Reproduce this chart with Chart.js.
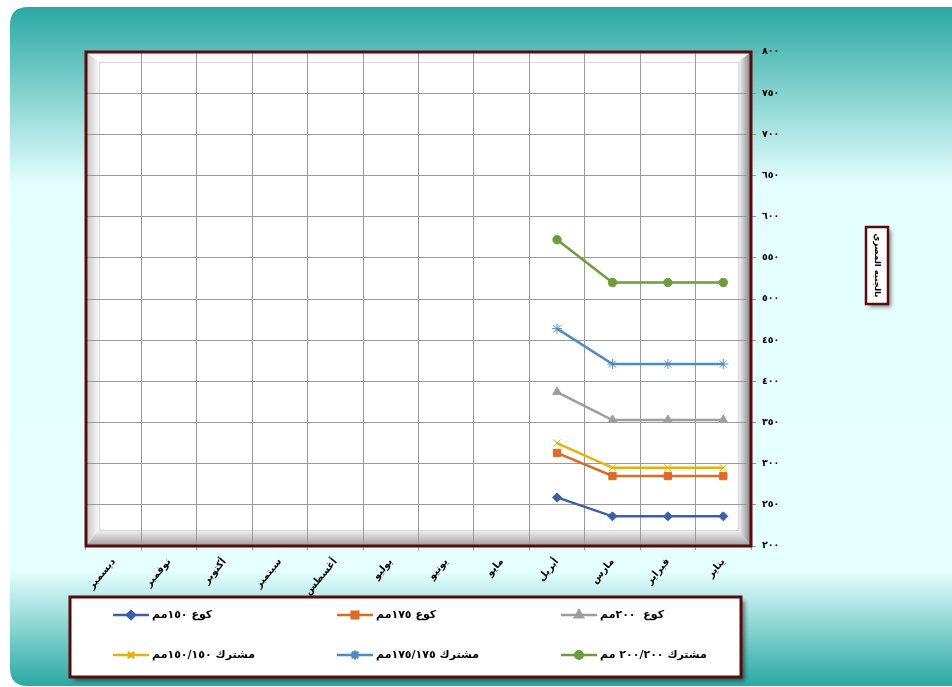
<!DOCTYPE html>
<html>
<head>
<meta charset="utf-8">
<script src="https://cdn.jsdelivr.net/npm/chart.js@4.4.1/dist/chart.umd.min.js"></script>
<style>
  html, body { margin: 0; padding: 0; background: #fff; }
  canvas { display: block; }
</style>
</head>
<body>
<canvas id="chart" width="952" height="687"></canvas>
<script>
// الشهور (من اليمين لليسار)
const months = ['يناير', 'فبراير', 'مارس', 'أبريل', 'مايو', 'يونيو', 'يوليو', 'أغسطس', 'سبتمبر', 'أكتوبر', 'نوفمبر', 'ديسمبر'];

// الأسعار بالجنيه المصري
const elbow150 = [236, 236, 236, 259, null, null, null, null, null, null, null, null];
const elbow175 = [285, 285, 285, 313, null, null, null, null, null, null, null, null];
const elbow200 = [353, 353, 353, 387, null, null, null, null, null, null, null, null];
const tee150 = [295, 295, 295, 325, null, null, null, null, null, null, null, null];
const tee175 = [421, 421, 421, 464, null, null, null, null, null, null, null, null];
const tee200 = [520, 520, 520, 572, null, null, null, null, null, null, null, null];

const seriesNames = ['كوع ١٥٠مم', 'كوع ١٧٥مم', 'كوع  ٢٠٠مم', 'مشترك ١٥٠/١٥٠مم', 'مشترك ١٧٥/١٧٥مم', 'مشترك ٢٠٠/٢٠٠ مم'];
const yMin = 200, yMax = 800, yStep = 50;
const yTitle = 'بالجنيه المصري';

const FONT = "'DejaVu Sans', sans-serif";
const MAROON = '#5a0b0b';

const toArabicDigits = n => String(n).replace(/\d/g, d => '٠١٢٣٤٥٦٧٨٩'[d]);

function makeSet(label, data, color, pointStyle, radius) {
    return {
        label: label,
        data: data,
        borderColor: color,
        backgroundColor: color,
        borderWidth: 2.5,
        pointStyle: pointStyle,
        pointRadius: radius,
        pointHoverRadius: radius,
        pointBorderWidth: 1,
        pointBackgroundColor: color,
        pointBorderColor: color,
        spanGaps: false,
        tension: 0
    };
}

const datasets = [
    makeSet(seriesNames[0], elbow150, '#3b60a9', 'rectRot', 4.5),
    makeSet(seriesNames[1], elbow175, '#dc6b27', 'rect', 5.2),
    makeSet(seriesNames[2], elbow200, '#9d9d9d', 'triangle', 5),
    makeSet(seriesNames[3], tee150, '#e7b10b', 'crossRot', 5),
    makeSet(seriesNames[4], tee175, '#4f8ac6', 'star', 5),
    makeSet(seriesNames[5], tee200, '#6b9d3d', 'circle', 4.2)
];

function roundRect(ctx, x, y, w, h, r) {
    ctx.beginPath();
    ctx.moveTo(x + r, y);
    ctx.lineTo(x + w - r, y);
    ctx.quadraticCurveTo(x + w, y, x + w, y + r);
    ctx.lineTo(x + w, y + h - r);
    ctx.quadraticCurveTo(x + w, y + h, x + w - r, y + h);
    ctx.lineTo(x + r, y + h);
    ctx.quadraticCurveTo(x, y + h, x, y + h - r);
    ctx.lineTo(x, y + r);
    ctx.quadraticCurveTo(x, y, x + r, y);
    ctx.closePath();
}

// الخلفية والإطار المجسم لمنطقة الرسم
const backgroundPlugin = {
    id: 'background',
    beforeDraw(chart) {
        const ctx = chart.ctx;
        const ca = chart.chartArea;
        ctx.save();
        ctx.fillStyle = '#fff';
        ctx.fillRect(0, 0, chart.width, chart.height);

        const g = ctx.createLinearGradient(0, 7, 0, 686);
        g.addColorStop(0, '#2aa8a2');
        g.addColorStop(0.26, '#e4fefe');
        g.addColorStop(0.83, '#e6ffff');
        g.addColorStop(1, '#2aa8a2');
        ctx.fillStyle = g;
        roundRect(ctx, 10, 7, 980, 679, 18);
        ctx.fill();

        ctx.fillStyle = '#fff';
        ctx.fillRect(ca.left, ca.top, ca.width, ca.height);

        const iL = 13, iR = 13, iT = 10, iB = 16;
        const L = ca.left, R = ca.right, T = ca.top, B = ca.bottom;
        function band(points, x0, y0, x1, y1, c0, c1) {
            const gr = ctx.createLinearGradient(x0, y0, x1, y1);
            gr.addColorStop(0, c0);
            gr.addColorStop(1, c1);
            ctx.fillStyle = gr;
            ctx.beginPath();
            ctx.moveTo(points[0][0], points[0][1]);
            for (let i = 1; i < points.length; i++) ctx.lineTo(points[i][0], points[i][1]);
            ctx.closePath();
            ctx.fill();
        }
        band([[L, T], [R, T], [R - iR, T + iT], [L + iL, T + iT]], 0, T, 0, T + iT, '#f4f4f4', '#ffffff');
        band([[L, T], [L + iL, T + iT], [L + iL, B - iB], [L, B]], L, 0, L + iL, 0, '#c4c4c4', '#f8f8f8');
        band([[L, B], [L + iL, B - iB], [R - iR, B - iB], [R, B]], 0, B, 0, B - iB, '#9c9c9c', '#f4f4f4');
        band([[R, T], [R, B], [R - iR, B - iB], [R - iR, T + iT]], R, 0, R - iR, 0, '#7e7e7e', '#fbfbfb');
        ctx.strokeStyle = '#d8d8d8';
        ctx.lineWidth = 1;
        ctx.strokeRect(L + iL + 0.5, T + iT + 0.5, R - L - iL - iR, B - T - iT - iB);
        ctx.restore();
    },
    afterDraw(chart) {
        const ctx = chart.ctx;
        const ca = chart.chartArea;
        ctx.save();
        ctx.strokeStyle = MAROON;
        ctx.lineWidth = 3;
        ctx.strokeRect(ca.left, ca.top, ca.width, ca.height);

        // عنوان المحور الرأسي
        ctx.shadowColor = 'rgba(0,0,0,0.45)';
        ctx.shadowOffsetX = 3;
        ctx.shadowOffsetY = 3;
        ctx.shadowBlur = 4;
        ctx.fillStyle = '#fff';
        ctx.fillRect(866, 227, 22, 77);
        ctx.shadowColor = 'transparent';
        ctx.strokeStyle = MAROON;
        ctx.lineWidth = 2.5;
        ctx.strokeRect(866, 227, 22, 77);
        ctx.translate(877, 265.5);
        ctx.rotate(Math.PI / 2);
        ctx.direction = 'rtl';
        ctx.fillStyle = '#000';
        ctx.font = 'bold 8.5px ' + FONT;
        ctx.textAlign = 'center';
        ctx.textBaseline = 'middle';
        ctx.fillText(yTitle, 0, 0);
        ctx.restore();

        drawLegend(chart);
    }
};

function drawLegend(chart) {
    const ctx = chart.ctx;
    const bx = 70, by = 597, bw = 671, bh = 80;
    ctx.save();
    ctx.shadowColor = 'rgba(0,0,0,0.45)';
    ctx.shadowOffsetX = 4;
    ctx.shadowOffsetY = 4;
    ctx.shadowBlur = 4;
    ctx.fillStyle = '#fff';
    ctx.fillRect(bx, by, bw, bh);
    ctx.shadowColor = 'transparent';
    ctx.strokeStyle = MAROON;
    ctx.lineWidth = 3;
    ctx.strokeRect(bx, by, bw, bh);

    const colX = [113, 337, 561];
    const rowY = [615, 655];
    chart.data.datasets.forEach((ds, i) => {
        const x = colX[i % 3];
        const y = rowY[Math.floor(i / 3)];
        ctx.strokeStyle = ds.borderColor;
        ctx.fillStyle = ds.borderColor;
        ctx.lineWidth = 2.5;
        ctx.beginPath();
        ctx.moveTo(x, y);
        ctx.lineTo(x + 36, y);
        ctx.stroke();
        Chart.helpers.drawPoint(ctx, {
            pointStyle: ds.pointStyle,
            radius: ds.pointRadius * 0.9,
            rotation: 0,
            borderWidth: ds.pointBorderWidth
        }, x + 18, y);
        ctx.fillStyle = '#000';
        ctx.font = 'bold 11px ' + FONT;
        ctx.direction = 'rtl';
        ctx.textAlign = 'left';
        ctx.textBaseline = 'middle';
        ctx.fillText(ds.label, x + 39, y);
    });
    ctx.restore();
}

const config = {
    type: 'line',
    data: {
        labels: months,
        datasets: datasets
    },
    options: {
        responsive: false,
        animation: false,
        devicePixelRatio: 1,
        layout: {
            padding: { left: 86, top: 52, right: 0, bottom: 0 }
        },
        scales: {
            x: {
                reverse: true,
                offset: true,
                border: { display: false },
                grid: {
                    offset: true,
                    color: '#9a9a9a',
                    lineWidth: 1,
                    drawTicks: true,
                    tickLength: 4
                },
                ticks: {
                    autoSkip: false,
                    minRotation: 50,
                    maxRotation: 50,
                    padding: 6,
                    color: '#000',
                    font: { family: FONT, size: 10, weight: 'bold' }
                },
                afterFit(scale) {
                    scale.height = 141;
                }
            },
            y: {
                position: 'right',
                min: yMin,
                max: yMax,
                border: { display: false },
                grid: {
                    color: '#9a9a9a',
                    lineWidth: 1,
                    drawTicks: true,
                    tickLength: 5
                },
                ticks: {
                    stepSize: yStep,
                    padding: 6,
                    color: '#000',
                    font: { family: FONT, size: 9.5, weight: 'bold' },
                    callback: v => toArabicDigits(v)
                },
                afterFit(scale) {
                    scale.width = 201;
                }
            }
        },
        plugins: {
            legend: { display: false },
            tooltip: { enabled: false },
            title: { display: false }
        }
    },
    plugins: [backgroundPlugin]
};

const ctx = document.getElementById('chart').getContext('2d');
new Chart(ctx, config);
</script>
</body>
</html>
